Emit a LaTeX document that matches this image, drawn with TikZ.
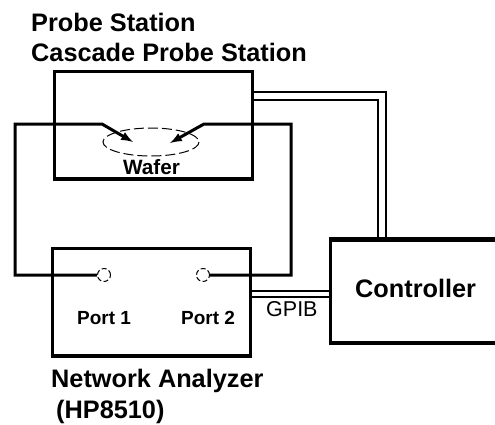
\documentclass[tikz,border=0pt]{standalone}
\usepackage{fontspec}
\setmainfont{Liberation Sans}
\usetikzlibrary{arrows,calc,positioning}
\tikzset{
	box/.style={draw,line width=3pt,minimum width=198pt,inner sep=0pt},
	txt/.style={inner sep=0pt,anchor=base west,font=\bfseries\fontsize{25.3}{25}\selectfont},
	small/.style={inner sep=0pt,anchor=base west,font=\bfseries\fontsize{19}{19}\selectfont},
	cable/.style={line width=3pt,line join=miter},
	port/.style={circle,draw,dash pattern=on 5pt off 2.5pt,line width=1pt,minimum size=13pt,inner sep=0pt},
}
\begin{document}
\begin{tikzpicture}[x=1pt,y=-1pt]
	\useasboundingbox (0,0) rectangle (495,424);
	% boxes
	\node[box,minimum height=107pt] (station) at (153.5,124.5) {};
	\node[box,minimum height=107pt] (analyzer) at (151,301.5) {};
	\node[box,minimum width=180pt,minimum height=102pt] (controller) at (420,291) {};
	\draw[line width=3pt] (station.south west) -- (station.south east);
	\draw[line width=3pt] (analyzer.south west) -- (analyzer.south east);
	\draw[line width=3pt] (controller.north west) -- (controller.north east);
	\draw[line width=3pt] (controller.south west) -- (controller.south east);
	% labels
	\node[txt] (stationname) at (31,31) {Probe Station};
	\node[txt] (stationtype) at (31,61) {Cascade Probe Station};
	\node[small,font=\bfseries\fontsize{20.7}{20}\selectfont] (wafer) at (123,174) {Wafer};
	\node[small] (port1) at (77,324) {Port 1};
	\node[small] (port2) at (181,324) {Port 2};
	\node[small,font=\fontsize{21.5}{20}\selectfont] (gpib) at (266,316) {GPIB};
	\node[txt] (ctrlname) at (355,297) {Controller};
	\node[txt] (analyzername) at (51,387) {Network Analyzer};
	\node[txt] (analyzertype) at (56,418) {(HP8510)};
	% ports and wafer
	\node[port] (p1) at (104,275) {};
	\node[port] (p2) at (203,275) {};
	\draw[dash pattern=on 10pt off 4pt,line width=1pt] (151,142) ellipse (48 and 14);
	% cables
	\coordinate (tip1) at (133,142);
	\coordinate (tip2) at (170,143);
	\draw[cable,-latex] (p1.west) -- (15,275) -- (15,124) -- (102,124) -- (tip1);
	\draw[cable,-latex] (p2.east) -- (291,275) -- (291,124) -- (204,124) -- (tip2);
	% double lines
	\draw[line width=2.5pt] (station.east |- 0,92) -- (386,92) -- (386,240);
	\draw[line width=2.5pt] (station.east |- 0,100) -- (378,100) -- (378,240);
	\draw[line width=2.5pt] (analyzer.east |- 0,291) -- (controller.west |- 0,291);
	\draw[line width=2.5pt] (analyzer.east |- 0,297) -- (controller.west |- 0,297);
\end{tikzpicture}
\end{document}
